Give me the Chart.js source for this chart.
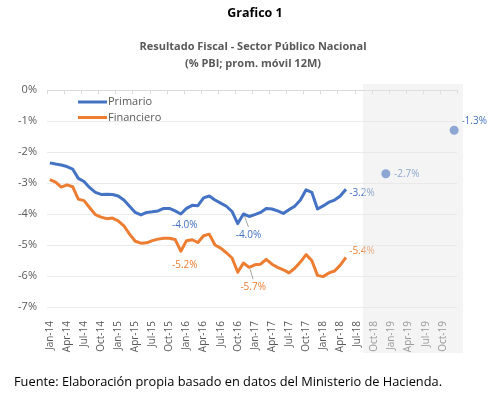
<!DOCTYPE html>
<html lang="es">
<head>
<meta charset="UTF-8">
<title>Grafico 1</title>
<script src="https://cdn.jsdelivr.net/npm/chart.js"></script>
<style>
    body { margin: 0; background: #fff; }
    #wrap { position: relative; width: 492px; height: 393px; font-family: "Open Sans", sans-serif; }
    #graf { position: absolute; left: 0; top: 0; }
    .texto { position: absolute; white-space: nowrap; }
    #titulo { left: 9px; width: 492px; top: 4px; text-align: center; font-weight: bold; font-size: 12.5px; line-height: 18px; color: #000; }
    #subtitulo { left: 7px; width: 492px; top: 37px; text-align: center; font-weight: bold; font-size: 11px; line-height: 17px; color: #595959; }
    #fuente { left: 14px; top: 372px; font-size: 12.8px; line-height: 18px; color: #000; }
</style>
</head>
<body>
<div id="wrap">
    <canvas id="graf" width="492" height="393"></canvas>
    <div class="texto" id="titulo">Grafico 1</div>
    <div class="texto" id="subtitulo">Resultado Fiscal - Sector Público Nacional<br>(% PBI; prom. móvil 12M)</div>
    <div class="texto" id="fuente">Fuente: Elaboración propia basado en datos del Ministerio de Hacienda.</div>
</div>

<script>
    // Categorias mensuales Jan-14 ... Dec-19
    const meses = ['Jan', 'Feb', 'Mar', 'Apr', 'May', 'Jun', 'Jul', 'Aug', 'Sep', 'Oct', 'Nov', 'Dec'];
    const anios = ['14', '15', '16', '17', '18', '19'];
    const categorias = [];
    anios.forEach(a => meses.forEach(m => categorias.push(m + '-' + a)));

    // Resultado primario (% PBI), Jan-14 a May-18
    const primario = [
        -2.35, -2.39, -2.42, -2.47, -2.55, -2.85, -2.95, -3.15, -3.30, -3.37, -3.36, -3.37,
        -3.42, -3.55, -3.75, -3.95, -4.03, -3.95, -3.93, -3.90, -3.82, -3.82, -3.90, -4.00,
        -3.82, -3.72, -3.73, -3.48, -3.42, -3.55, -3.65, -3.75, -3.92, -4.31, -4.00, -4.08,
        -4.02, -3.95, -3.82, -3.84, -3.90, -3.98, -3.86, -3.75, -3.55, -3.22, -3.30, -3.84,
        -3.74, -3.62, -3.55, -3.42, -3.20
    ];

    // Resultado financiero (% PBI), Jan-14 a May-18
    const financiero = [
        -2.89, -2.97, -3.13, -3.06, -3.12, -3.52, -3.57, -3.80, -4.02, -4.10, -4.15, -4.13,
        -4.22, -4.38, -4.65, -4.88, -4.94, -4.93, -4.86, -4.81, -4.78, -4.78, -4.82, -5.20,
        -4.86, -4.83, -4.92, -4.70, -4.65, -5.00, -5.10, -5.25, -5.42, -5.88, -5.58, -5.72,
        -5.64, -5.62, -5.46, -5.62, -5.72, -5.80, -5.90, -5.75, -5.55, -5.31, -5.50, -5.98,
        -6.02, -5.90, -5.84, -5.65, -5.40
    ];

    // Metas de resultado primario
    const metaMeses = ['Dec-18', 'Dec-19'];
    const metaValores = [-2.7, -1.3];

    const yTicks = [0, -1, -2, -3, -4, -5, -6, -7];

    const azul = '#4472C4';
    const naranja = '#ED7D31';
    const gris = '#595959';

    // Etiquetas de datos (dataset, indice del punto, desplazamiento, linea guia)
    const etiquetas = [
        { ds: 0, i: 23, dx: 4, dy: 11 },
        { ds: 0, i: 34, dx: 5, dy: 21, guia: true },
        { ds: 0, i: 52, dx: 16, dy: 4 },
        { ds: 1, i: 23, dx: 4, dy: 14 },
        { ds: 1, i: 35, dx: 4, dy: 20, guia: true },
        { ds: 1, i: 52, dx: 16, dy: -6 },
        { ds: 2, i: 0, dx: 21, dy: 0 },
        { ds: 2, i: 1, dx: 20, dy: -9 }
    ];

    // velo semitransparente sobre el periodo proyectado
    const veloProyeccion = {
        id: 'veloProyeccion',
        afterDraw(chart) {
            const { ctx, chartArea, scales } = chart;
            const x0 = scales.x.getPixelForValue(categorias.indexOf('Aug-18'));
            ctx.save();
            ctx.fillStyle = 'rgba(230, 230, 230, 0.45)';
            ctx.fillRect(x0, chartArea.top - 6, chartArea.right + 6 - x0, 353 - chartArea.top + 6);
            ctx.restore();
        }
    };

    const marcasSuperiores = {
        id: 'marcasSuperiores',
        afterDraw(chart) {
            const { ctx, chartArea, scales } = chart;
            const medio = (scales.x.getPixelForValue(1) - scales.x.getPixelForValue(0)) / 2;
            ctx.save();
            ctx.strokeStyle = '#d9d9d9';
            ctx.lineWidth = 1;
            for (let k = 0; k <= categorias.length; k += 3) {
                const x = Math.round(scales.x.getPixelForValue(k) - medio) + 0.5;
                ctx.beginPath();
                ctx.moveTo(x, chartArea.top);
                ctx.lineTo(x, chartArea.top + 4);
                ctx.stroke();
            }
            ctx.restore();
        }
    };

    const leyendaInterna = {
        id: 'leyendaInterna',
        afterDraw(chart) {
            const { ctx, chartArea } = chart;
            const items = [['Primario', azul], ['Financiero', naranja]];
            ctx.save();
            ctx.font = '11px "Open Sans"';
            ctx.textBaseline = 'middle';
            items.forEach((it, n) => {
                const y = chartArea.top + 12 + n * 15.5;
                ctx.strokeStyle = it[1];
                ctx.lineWidth = 3;
                ctx.beginPath();
                ctx.moveTo(chartArea.left + 31, y);
                ctx.lineTo(chartArea.left + 60, y);
                ctx.stroke();
                ctx.fillStyle = gris;
                ctx.fillText(it[0], chartArea.left + 61, y);
            });
            ctx.restore();
        }
    };

    const etiquetasDatos = {
        id: 'etiquetasDatos',
        afterDatasetsDraw(chart) {
            const { ctx } = chart;
            ctx.save();
            ctx.font = '10px "Open Sans"';
            ctx.textAlign = 'center';
            ctx.textBaseline = 'middle';
            etiquetas.forEach(e => {
                const ds = chart.data.datasets[e.ds];
                const el = chart.getDatasetMeta(e.ds).data[e.i];
                const v = typeof ds.data[e.i] === 'object' ? ds.data[e.i].y : ds.data[e.i];
                const tx = el.x + e.dx, ty = el.y + e.dy;
                if (e.guia) {
                    ctx.strokeStyle = '#a6a6a6';
                    ctx.lineWidth = 1;
                    ctx.beginPath();
                    ctx.moveTo(el.x + 1, el.y + 2);
                    ctx.lineTo(tx, ty - 8);
                    ctx.stroke();
                }
                ctx.fillStyle = ds.etiquetaColor;
                ctx.fillText(v.toFixed(1) + '%', tx, ty);
            });
            ctx.restore();
        }
    };

    const ctx = document.getElementById('graf').getContext('2d');
    new Chart(ctx, {
        type: 'line',
        data: {
            labels: categorias,
            datasets: [
                {
                    label: 'Primario',
                    data: primario,
                    borderColor: azul,
                    borderWidth: 3,
                    pointRadius: 0,
                    tension: 0,
                    borderJoinStyle: 'round',
                    etiquetaColor: azul
                },
                {
                    label: 'Financiero',
                    data: financiero,
                    borderColor: naranja,
                    borderWidth: 3,
                    pointRadius: 0,
                    tension: 0,
                    borderJoinStyle: 'round',
                    etiquetaColor: naranja
                },
                {
                    label: 'Meta',
                    data: metaMeses.map((m, n) => ({ x: m, y: metaValores[n] })),
                    showLine: false,
                    pointRadius: 4.5,
                    pointBorderWidth: 0,
                    pointBackgroundColor: azul,
                    etiquetaColor: azul
                }
            ]
        },
        options: {
            responsive: false,
            animation: false,
            layout: { padding: { top: 90, right: 35, left: 0, bottom: 0 } },
            plugins: {
                legend: { display: false },
                tooltip: { enabled: false }
            },
            scales: {
                x: {
                    type: 'category',
                    offset: true,
                    grid: { display: false },
                    border: { display: false },
                    ticks: {
                        autoSkip: false,
                        minRotation: 90,
                        maxRotation: 90,
                        padding: 6,
                        color: gris,
                        font: { family: 'Open Sans', size: 10 },
                        callback: (v, i) => i % 3 === 0 ? categorias[i] : ''
                    },
                    afterFit: s => { s.height = 86; }
                },
                y: {
                    min: -7,
                    max: 0,
                    afterBuildTicks: s => { s.ticks = yTicks.map(v => ({ value: v })); },
                    grid: {
                        color: c => c.tick && c.tick.value === 0 ? '#d9d9d9' : '#ebebeb',
                        drawTicks: false
                    },
                    border: { display: false },
                    ticks: {
                        padding: 10,
                        color: gris,
                        font: { family: 'Open Sans', size: 11 },
                        callback: v => v + '%'
                    },
                    afterFit: s => { s.width = 47; }
                }
            }
        },
        plugins: [marcasSuperiores, leyendaInterna, etiquetasDatos, veloProyeccion]
    });
</script>
</body>
</html>
